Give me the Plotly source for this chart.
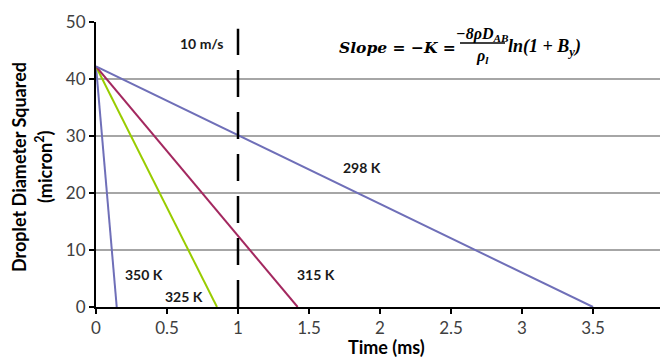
import plotly.graph_objects as go

# ---- data ----
series_names = ["350 K", "325 K", "315 K", "298 K"]
series_colors = ["#6f6fb8", "#99cc00", "#a3285f", "#6f6fb8"]
start_time = [0.0, 0.0, 0.0, 0.0]
end_time = [0.146, 0.852, 1.42, 3.5]
start_d2 = [42.2, 42.2, 42.2, 42.2]
end_d2 = [0.0, 0.0, 0.0, 0.0]

ref_time = [1.0, 1.0]
ref_d2 = [0.0, 48.8]

label_x = [0.34, 0.62, 1.55, 1.87]
label_y = [5.7, 1.9, 5.7, 24.4]

x_ticks = [0, 0.5, 1, 1.5, 2, 2.5, 3, 3.5, 4]
y_ticks = [0, 10, 20, 30, 40, 50]

# page body has an 8px margin, so the figure is drawn 8px right/down
OFF = 8
W, H = 660, 350
ML, MR, MT, MB = 88, 4, 14, 51
PW = W - ML - MR
PH = H - MT - MB

fig = go.Figure()
for i, name in enumerate(series_names):
    fig.add_trace(go.Scatter(
        x=[start_time[i], end_time[i]], y=[start_d2[i], end_d2[i]],
        mode="lines", line=dict(color=series_colors[i], width=2),
        name=name, showlegend=False, hoverinfo="skip"))

fig.add_trace(go.Scatter(
    x=ref_time, y=ref_d2, mode="lines",
    line=dict(color="black", width=2.5, dash="27px,15px"),
    showlegend=False, hoverinfo="skip"))

font_main = "Lato, 'Open Sans', sans-serif"

for i, name in enumerate(series_names):
    fig.add_annotation(x=label_x[i], y=label_y[i], text="<b>%s</b>" % name,
                       xanchor="center", yanchor="middle",
                       showarrow=False, font=dict(family=font_main, size=14, color="#1a1a1a"))

fig.add_annotation(x=0.74, y=46.3, text="<b>10 m/s</b>", showarrow=False,
                   xanchor="center", yanchor="middle",
                   font=dict(family=font_main, size=14, color="#1a1a1a"))


def px(xp):
    return (xp - OFF - ML) / PW


def py(yp):
    return (H - MB - (yp - OFF)) / PH


f_head = dict(family="'DejaVu Serif', serif", size=15.5, color="black")
f_frac = dict(family="'Liberation Serif', 'DejaVu Serif', serif", size=16, color="black")
f_ln = dict(family="'Liberation Serif', 'DejaVu Serif', serif", size=18, color="black")
fig.add_annotation(xref="paper", yref="paper", x=px(337), y=py(48), xanchor="left",
                   yanchor="middle", text="<b><i>Slope = −K =</i></b>", showarrow=False,
                   font=f_head)
fig.add_annotation(xref="paper", yref="paper", x=px(482), y=py(34), xanchor="center",
                   yanchor="middle", text="<b><i>−8ρD<sub>AB</sub></i></b>", showarrow=False,
                   font=f_frac)
fig.add_annotation(xref="paper", yref="paper", x=px(482), y=py(56), xanchor="center",
                   yanchor="middle", text="<b><i>ρ<sub>l</sub></i></b>", showarrow=False,
                   font=f_frac)
fig.add_annotation(xref="paper", yref="paper", x=px(506), y=py(48), xanchor="left",
                   yanchor="middle", text="<b><i>ln(1 + B<sub>y</sub>)</i></b>", showarrow=False,
                   font=f_ln)
fig.add_shape(type="line", xref="paper", yref="paper", x0=px(460), x1=px(505),
              y0=py(43), y1=py(43), line=dict(color="black", width=1.5))

# axis titles
fig.add_annotation(xref="paper", yref="paper", x=px(19), y=py(167), textangle=-90,
                   xanchor="center", yanchor="middle",
                   text="<b>Droplet Diameter Squared</b>", showarrow=False,
                   font=dict(family=font_main, size=18, color="black"))
fig.add_annotation(xref="paper", yref="paper", x=px(44), y=py(167), textangle=-90,
                   xanchor="center", yanchor="middle",
                   text="<b>(micron<sup>2</sup>)</b>", showarrow=False,
                   font=dict(family=font_main, size=18, color="black"))
fig.add_annotation(xref="paper", yref="paper", x=px(386), y=py(347),
                   xanchor="center", yanchor="middle",
                   text="<b>Time (ms)</b>", showarrow=False,
                   font=dict(family=font_main, size=18, color="black"))

fig.update_layout(
    width=W, height=H,
    margin=dict(l=ML, r=MR, t=MT, b=MB),
    paper_bgcolor="white", plot_bgcolor="white",
    showlegend=False,
)
fig.update_xaxes(range=[0, 4], tickvals=x_ticks, showgrid=False, zeroline=False,
                 showline=True, linecolor="black", linewidth=2,
                 ticks="outside", ticklen=5, tickwidth=1.5, tickcolor="black",
                 tickfont=dict(family=font_main, size=17, color="#404040"))
fig.update_yaxes(range=[0, 50], tickvals=y_ticks, showgrid=True, gridcolor="#a6a6a6",
                 gridwidth=1.5, zeroline=False,
                 showline=True, linecolor="black", linewidth=2,
                 ticks="outside", ticklen=5, tickwidth=1.5, tickcolor="black",
                 tickfont=dict(family=font_main, size=17, color="#404040"))

fig.write_html("out.html")
